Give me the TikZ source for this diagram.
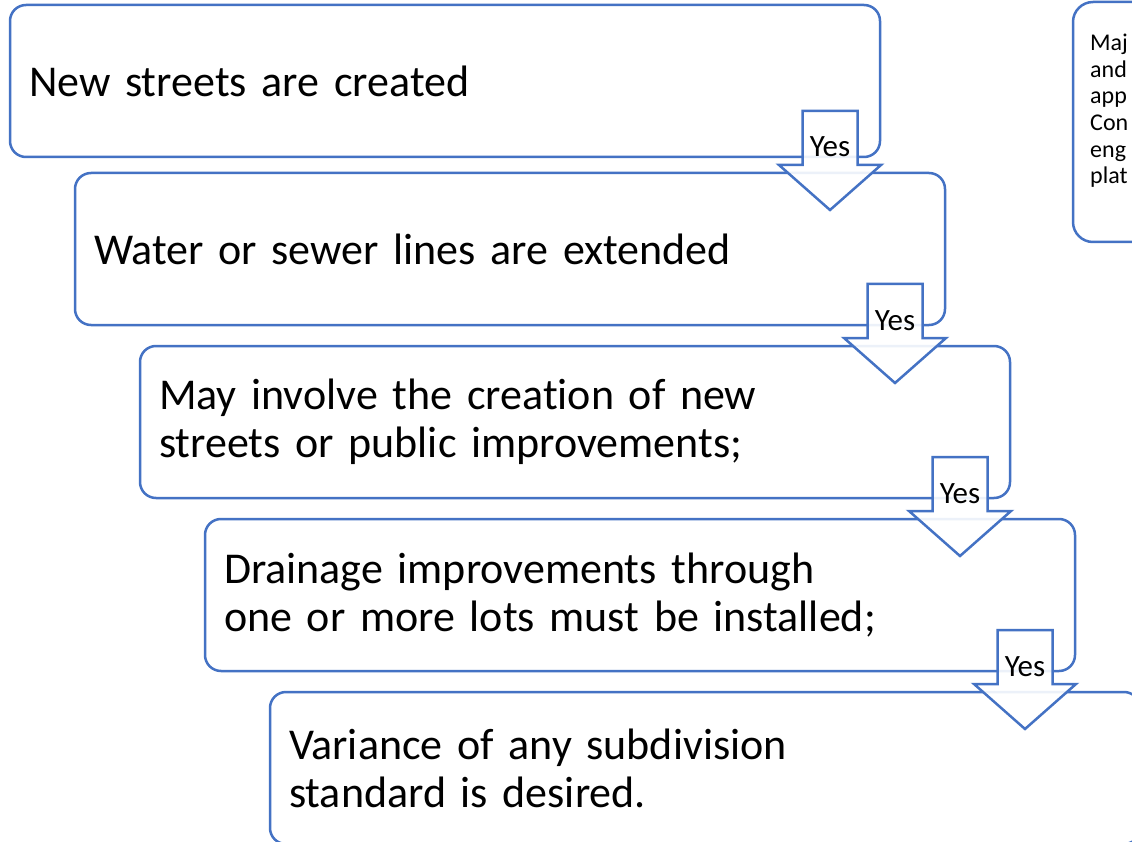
\documentclass[tikz,border=0pt]{standalone}
\usepackage{fontspec}
\setmainfont{Carlito}[Ligatures=NoCommon]
\usetikzlibrary{calc,positioning}
\definecolor{boxblue}{HTML}{4472C4}
% block arrow with its label, placed from the box it points into
\newcommand{\yesarrow}[2]{%
	\coordinate (#1) at ($(#2.north east)+(-115,-62)$);
	\draw[arrowbody] ($(#1)+(-27.5,0)$) -- ++(55,0) -- ++(0,54) -- ++(23.5,0) -- ($(#1)+(0,99)$) -- ($(#1)+(-51,54)$) -- ++(23.5,0) -- cycle;
	\node[yeslabel] (#1-yes) at ($(#1)+(0,46)$) {Yes};
}

\begin{document}
\begin{tikzpicture}[x=1pt, y=-1pt,
		stepbox/.style={draw=boxblue, line width=2.5pt, rounded corners=16pt, fill=white,
			anchor=north west, outer sep=0pt, minimum width=870pt, minimum height=152pt,
			text width=832pt, inner xsep=19pt, inner ysep=0pt, align=left,
			font=\fontsize{44}{48}\selectfont},
		notebox/.style={draw=boxblue, line width=2.5pt, rounded corners=20pt, fill=white,
			anchor=north west, outer sep=0pt, minimum width=200pt, minimum height=240pt},
		notetext/.style={inner sep=0pt, align=left, font=\fontsize{24}{26.6}\selectfont},
		arrowbody/.style={draw=boxblue, line width=2.5pt, fill=white, fill opacity=0.9},
		yeslabel/.style={anchor=base, inner sep=0pt, font=\fontsize{31}{36}\selectfont}]
	%%%%% START %%%%%
	\fill[white] (0, 0) rectangle (1132, 842);
	\useasboundingbox (0, 0) rectangle (1132, 842);
	
	\node[stepbox] (streets) at (10, 5) {New streets are created};
	\node[stepbox] (lines) at (75, 173) {Water or sewer lines are extended};
	\node[stepbox] (public) at (140, 346) {May involve the creation of new\\streets or public improvements;};
	\node[stepbox] (drainage) at (205, 519) {Drainage improvements through\\one or more lots must be installed;};
	\node[stepbox] (variance) at (270, 692) {Variance of any subdivision\\standard is desired.};
	
	\node[notebox] (note) at (1073, 2) {};
	\node[notetext, below right=32pt and 17pt of note.north west] (notetxt) {Maj\\and\\app\\Con\\eng\\plat};
	
	\yesarrow{a1}{lines}
	\yesarrow{a2}{public}
	\yesarrow{a3}{drainage}
	\yesarrow{a4}{variance}
	%%%%% END %%%%%
\end{tikzpicture}
\end{document}
